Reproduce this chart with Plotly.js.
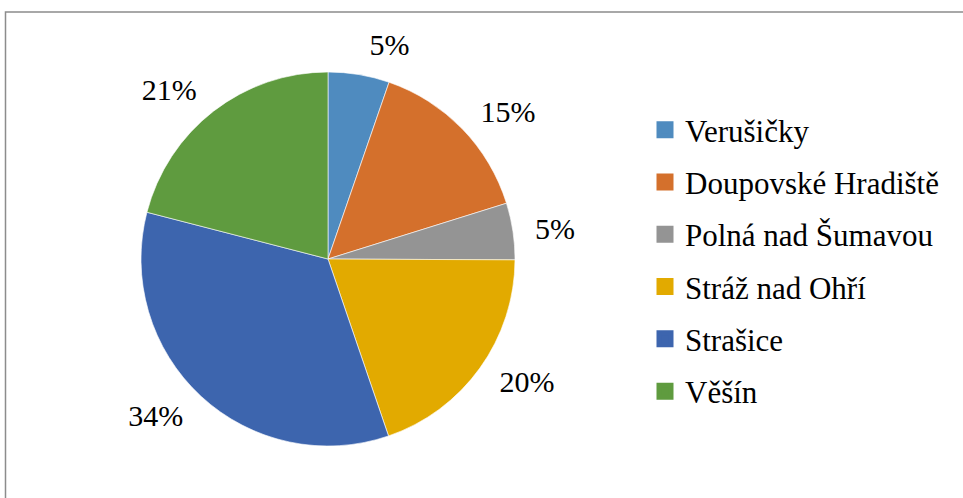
<!DOCTYPE html>
<html>
<head>
<meta charset="utf-8">
<script src="https://cdn.plot.ly/plotly-3.0.1.min.js"></script>
<style>
html,body{margin:0;padding:0;background:#fff;}
#chart{width:963px;height:498px;}
</style>
</head>
<body>
<div id="chart"></div>
<script>
const categories = ["Verušičky", "Doupovské Hradiště", "Polná nad Šumavou", "Stráž nad Ohří", "Strašice", "Věšín"];
const shares = [5.3, 14.9, 4.9, 19.7, 34.3, 21.0];
const sliceColors = ["#4f8bbf", "#d4702c", "#949494", "#e2aa00", "#3d65ae", "#5f9b3f"];

const W = 963, H = 498;
const cx = 328, cy = 259, r = 187, rLabel = 201;
const FONT = "Liberation Serif";

function dom(rad, cxp, cyp) {
  return {x: [(cxp - rad) / W, (cxp + rad) / W], y: [(H - cyp - rad) / H, (H - cyp + rad) / H]};
}

const traces = [];
// legend entries (tiny single-slice pies hidden beneath the main pie's centre)
categories.forEach((c, i) => {
  traces.push({
    type: "pie", labels: [c], values: [shares[i]], sort: false,
    marker: {colors: [sliceColors[i]], line: {color: sliceColors[i], width: 5}},
    textinfo: "none", hoverinfo: "skip",
    legendgroup: "g" + i, showlegend: true,
    domain: dom(1, cx, cy)
  });
});
// percentage labels (transparent slices, slightly larger radius)
traces.push({
  type: "pie", labels: categories, values: shares, sort: false,
  direction: "clockwise", rotation: 0,
  marker: {colors: sliceColors.map(() => "rgba(0,0,0,0)"), line: {width: 0}},
  textposition: "outside", texttemplate: "%{percent:.0%}",
  outsidetextfont: {family: FONT, size: 30, color: "#000"},
  textfont: {family: FONT, size: 30, color: "#000"},
  showlegend: false, hoverinfo: "skip", automargin: false,
  domain: dom(rLabel, cx, cy)
});
// main pie
traces.push({
  type: "pie", labels: categories, values: shares, sort: false,
  direction: "clockwise", rotation: 0,
  marker: {colors: sliceColors, line: {color: "#ffffff", width: 0.6}},
  textinfo: "none", showlegend: false,
  hoverinfo: "label+percent", automargin: false,
  domain: dom(r, cx, cy)
});

const layout = {
  width: W, height: H,
  margin: {l: 0, r: 0, t: 0, b: 0},
  paper_bgcolor: "#ffffff",
  font: {family: FONT, size: 30, color: "#000"},
  showlegend: true,
  legend: {
    x: 645 / W, y: (H - 103) / H, xanchor: "left", yanchor: "top",
    font: {family: FONT, size: 31, color: "#000"},
    bgcolor: "rgba(0,0,0,0)",
    traceorder: "grouped", tracegroupgap: 9
  },
  shapes: [{
    type: "rect", xref: "paper", yref: "paper",
    x0: 5.5 / W, x1: 1.05, y0: -0.05, y1: (H - 12) / H,
    line: {color: "#8c8c8c", width: 1.5}, fillcolor: "rgba(0,0,0,0)", layer: "below"
  }]
};

Plotly.newPlot("chart", traces, layout, {displayModeBar: false, staticPlot: true});
</script>
</body>
</html>
